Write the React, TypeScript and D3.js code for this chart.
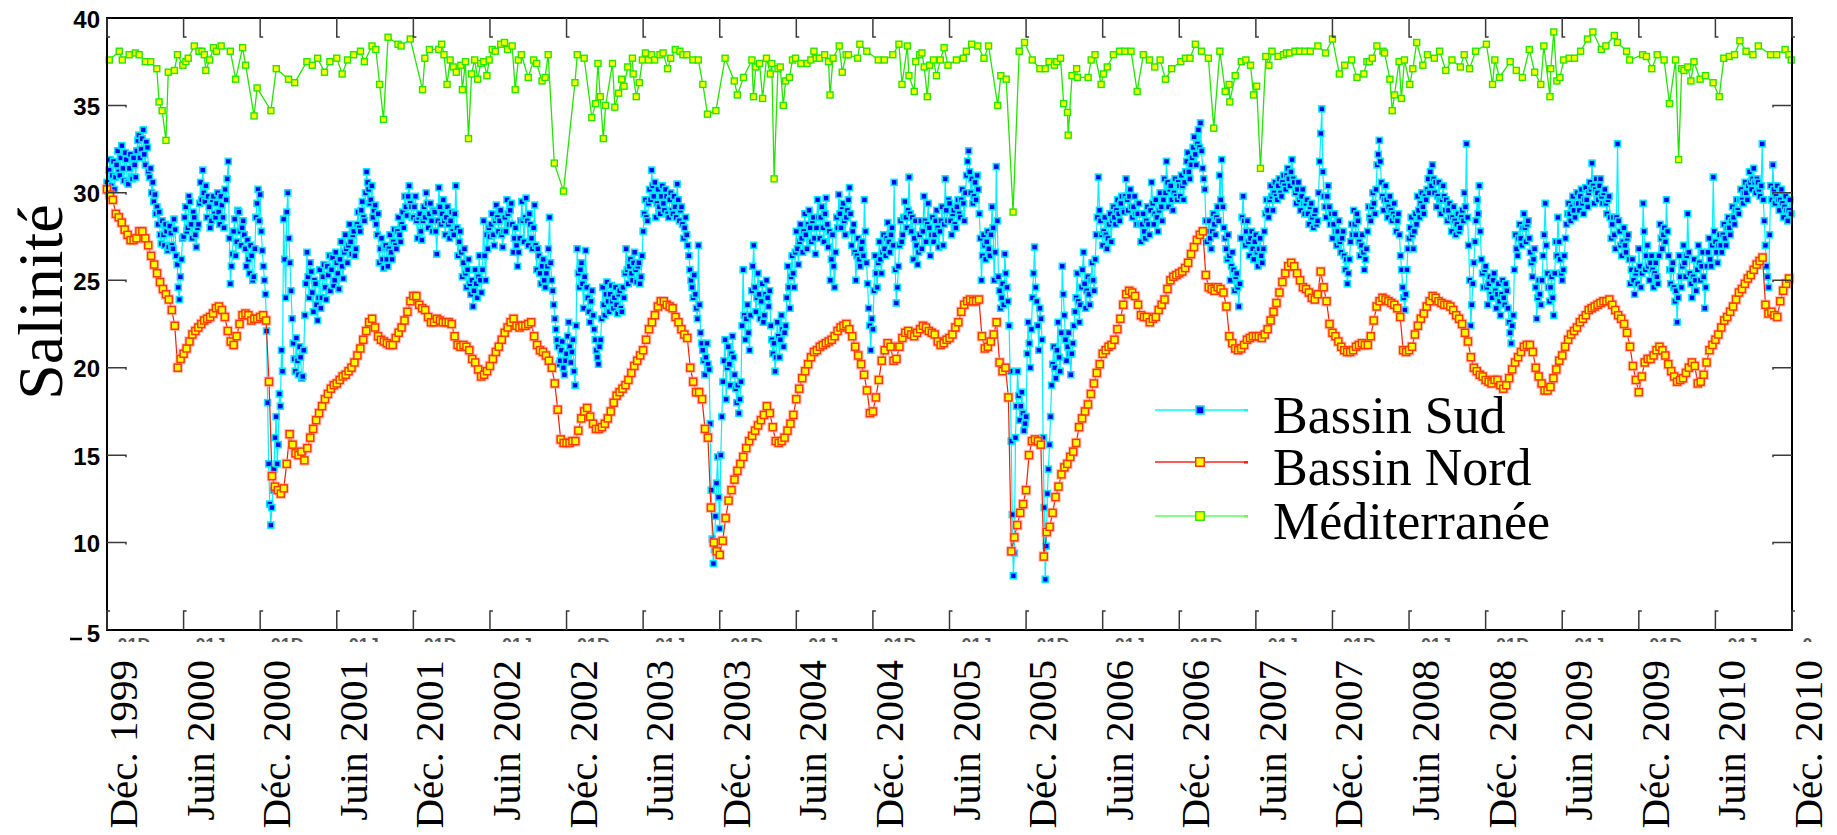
import React from "react";
import * as d3 from "d3";

type Pt = { t: number; v: number };

// Half-year tick labels along the time axis (one per semester boundary)
const semesterLabels = [
  "Déc. 1999", "Juin 2000", "Déc. 2000", "Juin 2001", "Déc. 2001", "Juin 2002",
  "Déc. 2002", "Juin 2003", "Déc. 2003", "Juin 2004", "Déc. 2004", "Juin 2005",
  "Déc. 2005", "Juin 2006", "Déc. 2006", "Juin 2007", "Déc. 2007", "Juin 2008",
  "Déc. 2008", "Juin 2009", "Déc. 2009", "Juin 2010", "Déc. 2010",
];

const salinityTicks = [40, 35, 30, 25, 20, 15, 10, 5];

// Bassin Sud: one row per half-year, evenly spaced samples inside each half-year
const sudSemesters: number[][] = [
  [30.6, 30.1, 31.3, 31.9, 30.4, 31.0, 31.8, 30.2, 30.9, 31.6, 32.4, 31.2, 31.0, 32.0, 32.7, 31.4, 30.7, 32.3, 31.9, 30.6, 30.5, 31.4, 32.2, 30.9, 30.8, 32.0, 31.6, 30.9, 32.4, 33.0, 33.3, 32.0, 32.5, 33.1, 33.6, 32.2, 31.6, 32.9, 32.6, 31.2, 30.9, 31.4, 30.0, 30.6, 29.5, 29.9, 28.8, 29.2, 28.2, 28.9, 27.6, 27.1, 28.4, 27.6, 27.0, 28.2, 27.8, 26.7, 26.9, 28.1, 27.7, 27.0, 26.8, 28.5, 27.9, 26.4, 25.9, 24.6, 23.9, 25.2, 26.2, 27.4],
  [27.5, 28.6, 29.2, 27.8, 28.0, 29.8, 29.5, 28.2, 27.4, 28.9, 28.6, 27.6, 26.9, 28.0, 28.2, 29.4, 30.6, 29.6, 31.3, 30.0, 29.5, 30.4, 28.6, 29.8, 29.2, 28.0, 28.4, 29.6, 29.8, 28.8, 28.6, 29.4, 30.0, 28.9, 28.2, 29.8, 29.3, 28.6, 28.0, 30.2, 29.6, 30.8, 31.8, 27.4, 24.8, 25.8, 26.5, 27.8, 28.5, 26.4, 27.2, 29.0, 28.9, 27.8, 27.0, 28.0, 28.4, 27.6, 26.8, 25.8, 27.3, 26.2, 25.4, 27.0, 26.4, 25.0, 25.2, 26.8, 28.6, 29.4, 30.2, 28.4],
  [29.9, 27.8, 26.7, 25.8, 25.0, 24.2, 22.1, 18.0, 14.5, 12.2, 11.0, 12.0, 13.0, 14.2, 16.0, 17.2, 14.5, 15.6, 18.5, 17.8, 21.0, 19.8, 28.5, 26.2, 24.0, 28.9, 30.0, 27.4, 26.0, 24.4, 22.8, 21.4, 20.5, 19.8, 21.7, 20.4, 19.6, 21.2, 20.6, 19.4, 19.5, 21.0, 23.0, 24.8, 26.6, 25.2, 24.0, 26.0, 25.5, 24.3, 23.2, 25.0, 24.8, 23.6, 22.7, 24.0, 25.6, 23.4, 24.0, 25.2, 25.9, 24.6, 23.9, 25.8, 25.3, 26.4, 24.4, 25.6, 26.3, 24.7, 25.0, 26.6],
  [26.0, 25.4, 24.5, 26.2, 27.2, 25.8, 25.1, 26.6, 27.6, 26.8, 26.0, 27.0, 28.2, 27.2, 26.5, 27.6, 27.8, 26.4, 26.8, 28.2, 28.9, 28.0, 27.8, 29.0, 29.5, 28.6, 28.4, 30.0, 31.2, 30.6, 30.2, 29.4, 29.6, 30.4, 28.6, 29.0, 29.3, 28.2, 27.6, 28.8, 26.0, 26.8, 27.4, 26.2, 25.7, 26.9, 27.0, 26.2, 25.8, 26.8, 27.6, 26.6, 26.2, 27.2, 27.9, 27.0, 26.8, 27.8, 28.6, 27.6, 27.2, 28.2, 28.9, 28.0, 29.8, 29.2, 28.7, 29.8, 30.4, 29.4, 29.2, 28.6],
  [28.6, 29.2, 29.8, 28.4, 27.4, 28.6, 28.8, 27.8, 27.3, 28.4, 29.2, 28.6, 30.0, 29.4, 28.0, 28.8, 29.4, 28.4, 27.8, 29.0, 28.9, 27.8, 26.5, 28.4, 30.3, 29.2, 28.2, 28.8, 29.6, 28.4, 27.6, 28.6, 29.2, 28.2, 27.4, 28.4, 28.9, 27.8, 27.6, 28.8, 30.4, 28.0, 26.4, 27.2, 27.8, 26.6, 25.2, 26.0, 26.8, 25.4, 24.6, 25.6, 26.2, 24.8, 24.2, 25.0, 23.5, 24.4, 25.6, 24.8, 24.0, 25.2, 26.4, 25.0, 24.3, 25.6, 28.4, 26.4, 25.0, 27.6, 26.8, 28.0],
  [27.5, 28.2, 28.8, 27.6, 27.0, 28.4, 29.3, 28.6, 27.8, 28.4, 29.0, 27.6, 26.9, 27.8, 28.6, 27.8, 29.6, 28.8, 28.2, 29.0, 29.4, 28.2, 26.6, 27.4, 28.0, 27.0, 25.8, 26.6, 27.4, 28.4, 29.5, 28.4, 27.2, 28.6, 29.7, 28.4, 27.0, 28.8, 28.2, 27.4, 26.8, 28.0, 29.3, 27.0, 25.6, 26.8, 26.4, 25.4, 24.8, 25.8, 26.2, 25.0, 24.6, 25.4, 25.8, 26.8, 28.6, 26.0, 25.0, 24.4, 23.6, 22.8, 22.2, 21.6, 21.2, 20.2, 20.4, 21.0, 21.5, 20.0, 19.6, 20.4],
  [20.8, 21.8, 22.6, 21.2, 20.3, 20.9, 21.6, 19.8, 19.0, 22.4, 26.8, 25.4, 24.6, 25.6, 26.0, 24.8, 23.4, 25.2, 26.7, 24.6, 24.0, 23.2, 22.6, 23.8, 24.4, 23.0, 22.2, 21.6, 21.0, 20.6, 20.2, 21.2, 21.6, 22.8, 24.6, 23.6, 23.0, 24.2, 24.9, 23.8, 23.2, 24.2, 24.7, 23.8, 23.4, 24.0, 24.6, 23.6, 23.1, 24.2, 24.4, 23.4, 23.2, 24.6, 24.0, 25.4, 26.8, 25.6, 24.8, 25.8, 26.2, 25.4, 25.0, 26.0, 26.6, 25.6, 24.9, 25.8, 26.0, 24.8, 25.2, 26.4],
  [27.8, 28.8, 29.6, 28.6, 28.4, 29.4, 30.2, 29.6, 31.3, 30.4, 29.8, 30.6, 28.6, 29.4, 30.2, 29.2, 28.8, 29.8, 30.4, 29.4, 29.0, 30.2, 29.8, 28.8, 28.6, 29.6, 30.0, 29.0, 28.8, 29.8, 29.2, 28.6, 30.5, 29.6, 28.4, 29.0, 29.2, 28.2, 27.4, 28.0, 28.6, 27.6, 27.0, 26.4, 25.6, 25.0, 24.6, 24.0, 25.3, 24.2, 23.4, 22.8, 27.0, 23.6, 22.0, 21.4, 21.0, 20.4, 19.6, 20.6, 21.4, 20.2, 19.9, 16.8, 13.0, 10.2, 8.8, 9.6, 11.5, 13.4, 14.9, 12.6],
  [10.8, 15.0, 17.2, 19.2, 20.4, 21.6, 18.2, 20.0, 21.2, 20.2, 19.0, 20.8, 21.8, 20.6, 19.6, 18.8, 18.0, 19.0, 17.4, 18.2, 19.2, 22.4, 25.6, 23.0, 21.6, 22.8, 23.6, 22.0, 21.0, 23.0, 24.4, 25.8, 27.0, 24.6, 23.2, 24.0, 25.4, 24.2, 22.8, 23.8, 24.8, 22.6, 23.0, 24.2, 25.0, 24.0, 23.5, 24.4, 22.4, 21.6, 20.8, 21.4, 19.8, 20.6, 22.6, 21.8, 20.6, 21.6, 23.0, 22.2, 21.2, 22.0, 22.4, 24.0, 25.8, 24.6, 23.4, 25.2, 26.4, 25.4, 24.6, 26.6],
  [27.8, 26.8, 25.9, 27.2, 28.2, 27.4, 26.6, 27.8, 28.8, 27.6, 26.8, 28.2, 29.0, 28.0, 27.2, 28.4, 28.6, 27.4, 26.5, 28.0, 29.6, 28.6, 27.4, 28.6, 29.2, 28.0, 27.2, 28.8, 29.7, 28.2, 26.9, 27.8, 25.0, 26.2, 27.6, 25.8, 24.6, 26.6, 28.6, 28.0, 29.9, 28.8, 28.0, 29.2, 29.4, 28.4, 27.6, 28.6, 29.0, 29.6, 30.3, 28.8, 27.0, 27.8, 28.2, 26.6, 25.0, 26.4, 27.4, 26.2, 25.8, 26.8, 27.2, 26.4, 29.6, 27.8, 26.0, 24.8, 23.4, 22.4, 21.0, 22.8],
  [22.2, 24.4, 26.4, 25.4, 24.6, 26.0, 27.2, 26.2, 25.4, 26.6, 27.6, 26.8, 26.4, 27.4, 28.3, 27.2, 26.6, 27.6, 28.0, 27.0, 30.6, 25.6, 23.7, 24.6, 25.8, 27.0, 28.4, 27.2, 27.6, 28.6, 29.5, 28.6, 28.0, 29.0, 30.9, 28.8, 27.8, 28.6, 26.2, 27.4, 28.4, 27.0, 25.9, 26.6, 27.6, 28.4, 26.8, 27.8, 29.8, 28.4, 27.2, 28.2, 29.4, 28.0, 26.4, 27.6, 28.6, 27.2, 27.6, 28.4, 29.0, 28.0, 26.9, 27.8, 28.4, 29.2, 27.0, 28.2, 30.8, 29.0, 28.4, 29.6],
  [29.4, 28.4, 27.6, 28.8, 29.0, 28.2, 28.0, 29.2, 29.6, 28.8, 28.6, 29.6, 30.2, 29.4, 28.4, 30.0, 31.0, 31.8, 32.4, 31.2, 30.0, 30.8, 29.4, 29.8, 30.6, 29.6, 31.0, 30.2, 28.8, 27.4, 25.0, 26.4, 27.6, 27.0, 26.2, 27.2, 27.8, 26.8, 26.4, 27.6, 29.2, 28.0, 25.0, 26.6, 31.5, 28.4, 25.2, 24.4, 23.4, 24.0, 24.8, 23.6, 26.5, 25.4, 24.6, 23.8, 22.4, 19.8, 15.8, 11.6, 8.1, 9.4, 16.0, 17.8, 19.8, 18.4, 17.0, 17.8, 18.6, 17.4, 16.4, 16.8],
  [17.2, 20.8, 22.6, 21.4, 20.0, 22.2, 24.0, 25.4, 26.9, 24.6, 23.8, 22.4, 21.0, 23.4, 22.8, 21.6, 16.0, 12.0, 7.9, 9.8, 12.8, 14.2, 15.6, 17.2, 19.0, 20.2, 21.2, 20.0, 19.4, 21.0, 22.6, 20.6, 19.8, 22.0, 25.8, 24.2, 23.0, 21.6, 20.4, 21.2, 22.0, 20.8, 19.6, 20.8, 21.4, 22.4, 23.2, 24.0, 25.4, 23.8, 22.6, 23.6, 24.6, 25.6, 26.6, 24.8, 23.4, 24.4, 25.2, 24.2, 23.6, 25.0, 26.0, 25.0, 24.4, 26.2, 27.6, 28.6, 30.9, 29.0, 28.4, 27.6],
  [27.0, 27.8, 28.6, 27.6, 26.8, 27.4, 28.2, 28.8, 27.2, 28.4, 29.2, 28.6, 28.2, 29.0, 29.6, 28.8, 28.4, 29.4, 29.8, 29.0, 28.9, 29.8, 30.8, 29.6, 29.0, 29.8, 30.2, 29.2, 28.6, 29.2, 29.8, 28.8, 28.2, 28.8, 29.4, 28.2, 27.2, 28.2, 28.8, 27.8, 27.4, 28.4, 29.2, 28.2, 27.6, 29.0, 30.6, 29.4, 28.2, 28.8, 29.6, 28.6, 27.8, 29.0, 30.0, 29.2, 28.4, 29.6, 30.8, 30.0, 31.8, 30.6, 29.2, 30.2, 30.4, 29.6, 29.0, 30.0, 30.8, 29.8, 29.6, 30.6],
  [30.4, 29.8, 31.0, 30.4, 29.6, 30.6, 31.2, 31.8, 32.3, 31.2, 30.8, 31.6, 32.0, 32.6, 33.2, 32.2, 31.6, 32.8, 33.6, 32.6, 34.0, 32.4, 31.4, 30.8, 30.2, 28.4, 27.2, 27.8, 28.4, 27.4, 26.8, 27.8, 28.8, 28.2, 27.6, 28.6, 29.2, 28.4, 31.0, 29.6, 31.9, 29.2, 28.0, 27.4, 26.8, 26.2, 27.6, 26.4, 25.0, 25.8, 26.6, 25.6, 24.4, 25.2, 25.4, 24.6, 23.5, 24.8, 27.4, 28.6, 29.8, 28.4, 27.0, 27.8, 28.4, 27.2, 26.4, 27.4, 27.8, 26.8, 26.2, 27.2],
  [27.6, 26.6, 25.8, 26.8, 27.4, 26.4, 26.0, 26.8, 27.8, 28.8, 29.6, 29.0, 28.6, 29.6, 30.4, 29.8, 29.0, 30.0, 30.6, 29.8, 29.6, 30.4, 30.8, 30.0, 29.8, 30.6, 31.0, 30.4, 30.2, 31.0, 31.4, 30.8, 30.4, 31.2, 31.9, 30.8, 30.6, 30.0, 29.4, 30.2, 30.6, 29.6, 29.0, 29.8, 30.2, 29.4, 28.8, 29.4, 29.6, 28.8, 28.2, 29.2, 29.4, 28.6, 28.0, 28.8, 29.0, 28.2, 28.4, 30.0, 31.8, 33.4, 34.8, 31.2, 29.8, 29.2, 28.6, 29.8, 30.4, 29.2, 28.2, 28.8],
  [27.4, 28.2, 28.8, 27.8, 27.0, 27.8, 28.4, 27.2, 26.6, 27.4, 27.8, 26.4, 25.6, 26.2, 24.8, 25.4, 26.2, 27.2, 28.2, 27.6, 29.0, 28.2, 27.6, 28.8, 28.4, 27.2, 26.4, 27.0, 27.6, 26.6, 25.6, 26.2, 26.8, 27.8, 29.2, 28.6, 28.4, 29.2, 30.0, 29.4, 28.8, 30.2, 31.6, 32.2, 33.0, 31.8, 30.6, 29.8, 29.0, 29.6, 30.4, 29.6, 28.6, 29.2, 29.8, 29.0, 28.4, 28.8, 29.4, 28.6, 27.8, 28.4, 28.8, 27.6, 26.4, 25.6, 24.6, 24.0, 23.3, 24.2, 25.6, 26.8],
  [27.4, 28.0, 28.6, 27.6, 26.8, 27.8, 28.8, 28.2, 29.8, 29.0, 28.6, 29.4, 30.0, 29.2, 28.8, 29.8, 29.6, 30.2, 30.8, 30.0, 31.2, 30.4, 31.6, 30.8, 30.0, 30.6, 29.2, 29.8, 30.6, 29.6, 28.8, 29.6, 30.4, 29.8, 29.0, 29.6, 28.4, 29.0, 29.4, 28.6, 27.8, 28.6, 29.2, 28.4, 27.6, 28.2, 28.8, 27.8, 28.0, 28.6, 29.0, 28.4, 30.0, 29.2, 32.8, 28.6, 27.0, 25.0, 22.4, 23.6, 24.8, 26.0, 27.2, 28.4, 29.6, 28.8, 30.4, 27.8, 26.2, 25.4, 24.6, 25.6],
  [25.8, 24.6, 23.6, 24.8, 25.2, 24.2, 24.0, 25.0, 25.4, 24.4, 23.4, 24.2, 24.8, 23.8, 23.0, 24.2, 25.0, 24.0, 23.6, 24.8, 24.4, 23.4, 22.6, 22.0, 21.4, 22.4, 23.0, 25.6, 27.6, 26.8, 26.4, 27.4, 28.2, 27.4, 27.0, 28.0, 28.8, 28.0, 27.2, 28.2, 28.4, 27.4, 26.6, 26.0, 25.2, 26.2, 26.8, 24.6, 22.8, 24.0, 25.0, 24.2, 23.6, 25.0, 26.4, 27.6, 29.4, 27.0, 25.4, 24.6, 23.8, 24.6, 25.2, 24.0, 23.0, 25.4, 27.2, 26.4, 28.6, 27.2, 26.2, 25.4],
  [25.0, 25.6, 26.4, 27.4, 28.2, 28.8, 29.4, 28.8, 28.4, 29.2, 29.8, 29.0, 28.6, 29.4, 30.0, 29.4, 29.0, 29.8, 30.2, 29.4, 28.8, 29.6, 30.3, 29.6, 29.2, 30.0, 30.6, 30.2, 31.7, 30.4, 29.4, 30.2, 30.8, 30.0, 29.6, 30.4, 30.8, 29.8, 29.4, 30.0, 30.2, 29.4, 28.8, 29.6, 29.8, 28.6, 27.4, 28.2, 28.6, 27.6, 26.8, 28.6, 32.8, 28.4, 27.8, 27.0, 26.4, 27.2, 28.0, 27.0, 26.6, 27.4, 27.6, 26.2, 24.8, 25.6, 26.2, 25.0, 24.2, 25.4, 25.6, 24.8],
  [26.8, 25.8, 24.6, 25.4, 29.4, 27.8, 25.6, 26.4, 27.0, 25.8, 25.0, 26.0, 26.4, 25.6, 24.6, 25.4, 26.0, 25.2, 24.8, 26.4, 28.2, 27.4, 26.8, 27.6, 28.0, 27.2, 29.6, 27.8, 26.4, 25.6, 24.8, 25.6, 26.0, 24.6, 23.8, 24.4, 22.6, 24.0, 26.4, 25.2, 24.6, 25.8, 27.0, 26.0, 25.2, 26.4, 28.8, 26.6, 25.4, 24.8, 24.0, 25.2, 26.2, 25.0, 24.4, 25.6, 27.0, 26.0, 25.0, 25.8, 26.6, 25.2, 23.4, 24.6, 25.8, 26.6, 27.4, 26.2, 25.8, 27.0, 30.9, 27.8],
  [27.2, 26.6, 26.0, 27.0, 27.6, 27.0, 26.6, 27.6, 28.2, 27.4, 27.0, 28.0, 28.6, 28.0, 27.6, 28.4, 29.2, 28.6, 28.2, 29.0, 29.6, 29.0, 28.8, 29.6, 30.2, 29.6, 29.4, 30.0, 30.6, 30.0, 29.6, 30.4, 31.2, 30.6, 30.2, 30.8, 31.4, 30.6, 30.0, 30.8, 30.6, 30.2, 29.8, 30.4, 32.8, 29.6, 28.4, 27.0, 25.8, 25.2, 24.6, 27.6, 30.4, 29.6, 31.6, 30.2, 29.4, 29.8, 30.4, 29.6, 29.0, 29.6, 30.2, 29.4, 28.6, 29.2, 29.8, 29.0, 28.4, 29.0, 29.6, 28.8],
];

// Bassin Nord: weekly samples, one row per half-year
const nordSemesters: number[][] = [
  [30.2, 29.9, 29.6, 28.8, 28.6, 28.3, 27.9, 27.6, 27.3, 27.3, 27.4, 27.8, 27.8, 27.4, 27.0, 26.4, 25.9, 25.4, 24.9, 24.5, 24.2, 23.9, 23.3, 22.4, 20.0, 20.5],
  [20.8, 21.1, 21.5, 21.9, 22.1, 22.3, 22.5, 22.7, 22.8, 22.9, 23.1, 23.4, 23.5, 23.3, 22.9, 22.1, 21.5, 21.3, 21.8, 22.5, 23.0, 23.1, 23.0, 22.7, 22.8, 22.8],
  [22.9, 23.0, 22.7, 19.2, 13.8, 13.2, 13.0, 12.8, 13.1, 14.5, 16.2, 15.6, 15.1, 15.0, 15.2, 14.7, 15.4, 16.0, 16.5, 17.0, 17.4, 17.8, 18.2, 18.5, 18.8, 19.0],
  [19.1, 19.3, 19.5, 19.6, 19.8, 20.0, 20.3, 20.7, 21.1, 21.6, 22.1, 22.6, 22.8, 22.3, 21.8, 21.6, 21.5, 21.4, 21.3, 21.3, 21.7, 22.0, 22.3, 22.7, 23.2, 23.8],
  [24.1, 24.1, 23.6, 23.4, 23.3, 22.9, 22.6, 22.6, 22.8, 22.7, 22.6, 22.6, 22.6, 22.5, 21.8, 21.3, 21.2, 21.3, 21.2, 21.0, 20.5, 20.3, 19.9, 19.5, 19.6, 19.8],
  [20.1, 20.5, 20.9, 21.2, 21.6, 22.0, 22.3, 22.6, 22.8, 22.4, 22.3, 22.4, 22.4, 22.5, 22.6, 21.8, 21.3, 21.0, 20.9, 20.7, 20.4, 20.0, 19.1, 17.6, 15.9, 15.7],
  [15.7, 15.7, 15.8, 15.8, 16.4, 17.1, 17.5, 17.7, 17.2, 16.8, 16.5, 16.5, 16.6, 16.8, 17.1, 17.5, 18.0, 18.4, 18.6, 18.8, 19.0, 19.3, 19.7, 20.1, 20.4, 20.7],
  [21.0, 21.6, 22.2, 22.6, 23.0, 23.5, 23.8, 23.8, 23.6, 23.5, 23.4, 22.9, 22.6, 22.2, 21.9, 21.7, 20.0, 19.2, 18.6, 18.6, 18.2, 16.5, 16.0, 12.0, 10.0, 9.5],
  [9.3, 10.1, 11.4, 12.4, 13.0, 13.6, 14.1, 14.5, 14.9, 15.4, 15.8, 16.1, 16.4, 16.7, 17.0, 17.3, 17.8, 17.4, 16.6, 15.8, 15.7, 15.8, 16.0, 16.4, 16.8, 17.3],
  [18.2, 18.8, 19.4, 19.8, 20.2, 20.6, 20.9, 21.0, 21.2, 21.3, 21.4, 21.5, 21.6, 21.8, 22.1, 22.3, 22.4, 22.5, 22.2, 21.8, 21.2, 20.7, 20.2, 19.6, 18.7, 17.4],
  [17.5, 18.3, 19.3, 20.4, 21.0, 21.4, 21.2, 20.4, 20.5, 21.2, 21.7, 22.0, 22.1, 21.9, 21.8, 22.0, 22.2, 22.4, 22.3, 22.1, 22.0, 21.9, 21.5, 21.3, 21.4, 21.6],
  [21.7, 21.9, 22.3, 22.6, 23.2, 23.6, 23.8, 23.9, 23.8, 23.8, 23.9, 21.8, 21.1, 21.2, 21.5, 21.9, 22.6, 20.3, 19.8, 20.0, 18.3, 9.5, 10.3, 11.0, 11.7, 12.2],
  [13.0, 15.0, 15.8, 15.9, 15.8, 15.6, 9.2, 10.6, 10.9, 11.7, 12.6, 13.2, 13.9, 14.3, 14.5, 14.9, 15.2, 15.7, 16.6, 17.1, 17.5, 17.9, 18.5, 19.1, 19.7, 20.2],
  [20.8, 21.0, 21.2, 21.3, 21.6, 22.2, 22.8, 23.6, 24.2, 24.4, 24.3, 24.1, 23.6, 23.0, 22.9, 22.9, 22.6, 22.8, 22.9, 23.3, 23.6, 23.9, 24.5, 25.0, 25.2, 25.3],
  [25.4, 25.5, 25.7, 26.0, 26.5, 26.9, 27.3, 27.6, 27.8, 25.3, 24.6, 24.5, 24.4, 24.6, 24.5, 24.3, 23.5, 21.8, 21.4, 21.1, 21.0, 21.1, 21.3, 21.6, 21.7, 21.8],
  [21.8, 21.8, 21.7, 21.9, 22.2, 22.7, 23.2, 23.7, 24.3, 24.9, 25.4, 25.8, 26.0, 25.8, 25.4, 25.0, 24.6, 24.5, 24.3, 24.0, 23.9, 24.2, 25.5, 24.6, 23.8, 22.5],
  [22.0, 21.8, 21.5, 21.2, 21.0, 20.9, 20.9, 21.0, 21.2, 21.3, 21.4, 21.3, 21.3, 21.8, 22.7, 23.5, 23.8, 24.0, 23.9, 23.8, 23.7, 23.6, 23.4, 22.9, 21.0, 20.9],
  [21.0, 21.2, 21.9, 22.4, 22.8, 23.1, 23.5, 23.8, 24.1, 24.0, 23.8, 23.7, 23.6, 23.6, 23.5, 23.3, 23.0, 22.8, 22.5, 22.0, 21.5, 20.6, 20.0, 19.8, 19.6, 19.5],
  [19.3, 19.2, 19.1, 19.3, 19.3, 19.0, 18.8, 19.0, 19.4, 19.9, 20.3, 20.6, 20.9, 21.2, 21.3, 21.3, 20.9, 20.0, 19.5, 19.1, 18.7, 18.7, 18.9, 19.4, 19.9, 20.4],
  [20.7, 21.2, 21.6, 21.9, 22.1, 22.3, 22.6, 22.8, 23.0, 23.3, 23.4, 23.5, 23.6, 23.7, 23.8, 23.8, 23.9, 23.6, 23.3, 23.0, 22.8, 22.5, 22.0, 21.2, 20.1, 19.3],
  [18.6, 19.5, 20.3, 20.5, 20.5, 20.7, 21.0, 21.2, 21.0, 20.7, 20.2, 19.8, 19.5, 19.2, 19.3, 19.4, 19.7, 20.0, 20.3, 20.1, 19.1, 19.2, 19.6, 20.3, 21.0, 21.3],
  [21.6, 21.9, 22.3, 22.7, 22.9, 23.2, 23.5, 23.9, 24.3, 24.5, 24.8, 25.1, 25.3, 25.6, 25.9, 26.1, 26.3, 23.6, 23.1, 23.2, 23.0, 22.9, 23.8, 24.4, 24.8, 25.1],
];

// Méditerranée: [time in half-years since Déc. 1999, salinity]
const medPoints: [number, number][] = [
  [0.03, 37.6], [0.16, 38.1], [0.20, 37.6], [0.29, 37.9], [0.37, 38.0], [0.42, 37.9], [0.50, 37.5], [0.57, 37.5], [0.65, 37.1], [0.68, 35.2], [0.72, 34.7], [0.77, 33.0], [0.80, 36.9], [0.88, 37.0], [0.92, 37.9], [0.99, 37.3],
  [1.03, 37.5], [1.06, 37.7], [1.14, 38.4], [1.20, 38.1], [1.24, 38.1], [1.27, 37.9], [1.29, 37.0], [1.34, 37.6], [1.39, 38.3], [1.43, 38.1], [1.49, 38.4], [1.61, 38.1], [1.68, 36.5], [1.77, 38.3], [1.81, 37.3], [1.92, 34.4], [1.96, 36.0],
  [2.14, 34.7], [2.21, 37.1], [2.37, 36.5], [2.45, 36.3], [2.61, 37.5], [2.68, 37.3], [2.75, 37.7], [2.84, 36.9], [2.91, 37.5], [3.00, 37.7],
  [3.07, 36.8], [3.14, 37.6], [3.22, 37.9], [3.31, 38.1], [3.36, 37.5], [3.46, 38.4], [3.51, 38.2], [3.56, 36.2], [3.61, 34.2], [3.67, 38.9], [3.80, 38.5], [3.84, 38.4], [3.96, 38.8],
  [4.12, 35.9], [4.15, 37.7], [4.21, 38.2], [4.33, 38.2], [4.37, 38.5], [4.40, 37.9], [4.44, 36.2], [4.48, 37.6], [4.52, 37.2], [4.56, 36.9], [4.62, 37.3], [4.64, 35.9], [4.68, 37.5], [4.72, 33.1], [4.76, 36.8], [4.80, 37.6], [4.84, 36.5], [4.88, 37.4], [4.92, 37.5], [4.96, 36.7], [4.99, 37.6],
  [5.03, 38.2], [5.07, 38.1], [5.14, 38.5], [5.19, 38.6], [5.23, 38.2], [5.29, 38.4], [5.33, 35.9], [5.37, 37.6], [5.41, 37.9], [5.50, 36.6], [5.57, 37.6], [5.61, 37.4], [5.68, 36.4], [5.72, 36.6], [5.76, 37.9], [5.84, 31.7], [5.96, 30.1],
  [6.11, 36.3], [6.14, 37.9], [6.23, 37.7], [6.33, 34.3], [6.38, 35.1], [6.41, 37.4], [6.44, 35.5], [6.48, 33.1], [6.51, 35.0], [6.60, 37.4], [6.63, 34.9], [6.68, 35.7], [6.72, 36.5], [6.75, 36.1], [6.80, 37.2], [6.86, 37.7], [6.87, 36.8], [6.91, 35.5], [6.95, 36.3], [6.99, 37.6],
  [7.03, 38.0], [7.07, 37.6], [7.11, 37.9], [7.15, 37.6], [7.22, 37.9], [7.26, 38.0], [7.32, 37.1], [7.36, 37.7], [7.42, 38.2], [7.48, 38.1], [7.52, 37.9], [7.57, 37.9], [7.65, 37.6], [7.72, 37.6], [7.78, 36.2], [7.84, 34.5], [7.95, 34.7],
  [8.07, 37.7], [8.19, 36.4], [8.23, 35.6], [8.31, 36.6], [8.42, 37.6], [8.44, 35.5], [8.47, 37.2], [8.52, 37.4], [8.56, 35.4], [8.61, 37.7], [8.66, 36.8], [8.68, 37.4], [8.71, 30.8], [8.76, 37.1], [8.79, 37.2], [8.83, 35.0], [8.86, 36.4], [8.91, 36.6], [8.95, 37.6], [8.99, 37.7],
  [9.06, 37.4], [9.14, 37.4], [9.19, 37.6], [9.23, 38.1], [9.26, 37.7], [9.30, 37.7], [9.37, 37.9], [9.42, 37.5], [9.44, 35.6], [9.48, 37.7], [9.56, 38.4], [9.60, 36.9], [9.65, 37.9], [9.68, 37.9], [9.80, 37.7], [9.83, 38.5], [9.92, 38.1],
  [10.07, 37.6], [10.15, 37.6], [10.26, 37.9], [10.34, 38.5], [10.38, 36.2], [10.45, 38.4], [10.47, 36.7], [10.54, 35.8], [10.56, 37.5], [10.61, 37.9], [10.64, 38.0], [10.67, 37.2], [10.71, 35.5], [10.74, 37.3], [10.79, 37.6], [10.83, 36.7], [10.88, 37.6], [10.93, 38.3], [10.98, 37.3],
  [11.09, 37.6], [11.18, 37.7], [11.22, 38.1], [11.29, 38.5], [11.37, 38.4], [11.45, 37.7], [11.51, 38.4], [11.63, 35.0], [11.67, 36.7], [11.74, 36.5], [11.83, 28.9], [11.91, 38.1], [11.98, 38.6],
  [12.08, 37.6], [12.18, 37.1], [12.25, 37.1], [12.30, 37.5], [12.37, 37.3], [12.40, 37.5], [12.45, 37.7], [12.49, 35.1], [12.54, 34.6], [12.55, 33.3], [12.60, 36.7], [12.66, 37.1], [12.67, 36.6], [12.81, 36.6], [12.85, 37.6], [12.90, 37.9], [12.98, 36.2],
  [13.01, 36.8], [13.06, 37.2], [13.14, 37.9], [13.22, 38.1], [13.29, 38.1], [13.37, 38.1], [13.45, 35.8], [13.53, 37.9], [13.61, 37.6], [13.68, 37.2], [13.75, 37.6], [13.82, 36.5], [13.90, 37.1],
  [14.02, 37.5], [14.08, 37.7], [14.14, 37.7], [14.21, 38.5], [14.29, 38.1], [14.38, 37.7], [14.45, 33.7], [14.53, 38.1], [14.60, 35.8], [14.65, 36.2], [14.66, 35.2], [14.73, 36.7], [14.81, 37.5], [14.87, 37.6], [14.93, 37.3], [14.97, 35.6],
  [15.01, 36.1], [15.06, 31.4], [15.13, 37.8], [15.17, 37.3], [15.21, 38.1], [15.29, 37.8], [15.36, 37.9], [15.40, 38.0], [15.44, 38.0], [15.51, 38.1], [15.57, 38.1], [15.64, 38.1], [15.71, 38.1], [15.81, 38.4], [15.91, 38.0], [16.00, 38.8],
  [16.09, 36.8], [16.16, 37.3], [16.25, 37.6], [16.32, 36.6], [16.41, 36.8], [16.45, 37.5], [16.48, 37.5], [16.52, 37.7], [16.58, 38.4], [16.66, 38.1], [16.68, 38.0], [16.75, 36.5], [16.78, 34.7], [16.81, 35.6], [16.87, 37.5], [16.90, 35.4], [16.94, 37.6],
  [17.01, 36.2], [17.05, 37.1], [17.10, 38.6], [17.18, 37.3], [17.24, 37.9], [17.33, 37.7], [17.40, 38.1], [17.48, 37.0], [17.56, 37.6], [17.67, 37.2], [17.72, 37.9], [17.79, 37.1], [17.87, 38.1],
  [18.01, 38.5], [18.09, 36.2], [18.12, 37.6], [18.18, 36.6], [18.32, 37.5], [18.40, 37.0], [18.48, 36.6], [18.57, 38.2], [18.64, 36.9], [18.72, 36.2], [18.76, 38.4], [18.84, 35.5], [18.85, 37.1], [18.89, 39.2], [18.93, 36.4], [18.97, 36.6],
  [19.02, 37.6], [19.09, 37.7], [19.16, 37.7], [19.24, 38.1], [19.33, 38.8], [19.40, 39.2], [19.51, 38.2], [19.57, 38.4], [19.68, 39.0], [19.72, 38.6], [19.84, 38.1], [19.88, 37.6],
  [20.05, 37.9], [20.10, 37.8], [20.17, 37.1], [20.24, 37.9], [20.33, 37.6], [20.40, 35.1], [20.48, 37.6], [20.52, 31.9], [20.56, 37.1], [20.59, 37.0], [20.64, 37.2], [20.68, 36.4], [20.72, 37.5], [20.80, 36.5], [20.87, 36.7], [20.97, 36.3],
  [21.05, 35.5], [21.11, 37.7], [21.18, 37.8], [21.25, 37.9], [21.32, 38.7], [21.40, 38.1], [21.49, 37.9], [21.56, 38.4], [21.72, 37.9], [21.80, 37.9], [21.91, 38.2], [21.96, 37.9], [21.99, 37.6],
];

const legendEntries = ["Bassin Sud", "Bassin Nord", "Méditerranée"];

const SERIF = "'Liberation Serif', 'Times New Roman', Times, serif";
const SANS = "'Liberation Sans', Arial, Helvetica, sans-serif";

const rowsToPoints = (rows: number[][]): Pt[] =>
  rows.flatMap((row, k) => row.map((v, i) => ({ t: k + i / row.length, v })));

type MarkerStyle = { fill: string; stroke: string; strokeWidth: number; size: number; halo?: string };

function Markers({ pts, x, y, st }: { pts: Pt[]; x: (t: number) => number; y: (v: number) => number; st: MarkerStyle }) {
  const s = st.size;
  return (
    <g>
      {st.halo && (
        <g fill="none" stroke={st.halo} strokeWidth={3.6} strokeOpacity={0.6}>
          {pts.map((d, i) => (
            <rect key={i} x={x(d.t) - s / 2} y={y(d.v) - s / 2} width={s} height={s} />
          ))}
        </g>
      )}
      <g fill={st.fill} stroke={st.stroke} strokeWidth={st.strokeWidth}>
        {pts.map((d, i) => (
          <rect key={i} x={x(d.t) - s / 2} y={y(d.v) - s / 2} width={s} height={s} />
        ))}
      </g>
    </g>
  );
}

export default function App() {
  const width = 1837;
  const height = 835;
  const left = 107, right = 1792, top = 18, bottom = 630;

  const x = d3.scaleLinear().domain([0, semesterLabels.length - 1]).range([left, right]);
  const y = d3.scaleLinear().domain([5, 40]).range([bottom, top]);
  const line = d3.line<Pt>().x((d) => x(d.t)).y((d) => y(d.v));

  const sud = rowsToPoints(sudSemesters);
  const nord = rowsToPoints(nordSemesters);
  const med: Pt[] = medPoints.map(([t, v]) => ({ t, v }));

  const sudStyle: MarkerStyle = { fill: "#0000f0", stroke: "#00e8ff", strokeWidth: 1.6, size: 6 };
  const nordStyle: MarkerStyle = { fill: "#ffff00", stroke: "#ff3a00", strokeWidth: 1.5, size: 7, halo: "#ff9c9c" };
  const medStyle: MarkerStyle = { fill: "#ffff00", stroke: "#22e600", strokeWidth: 1.4, size: 6 };

  const legendRows = [
    { label: legendEntries[0], ly: 410, lineColor: "#00ffff", st: { ...sudStyle, size: 8 } },
    { label: legendEntries[1], ly: 462, lineColor: "#ff2020", st: { ...nordStyle, size: 8.5, halo: undefined } },
    { label: legendEntries[2], ly: 516, lineColor: "#5cff5c", st: { ...medStyle, size: 8.5 } },
  ];

  const tickColor = "#3a3a3a";
  const tickLen = 19;

  return (
    <svg
      width={width}
      height={height}
      viewBox={`0 0 ${width} ${height}`}
      style={{ position: "absolute", left: 0, top: 0, display: "block", background: "#ffffff" }}
    >
      <defs>
        <clipPath id="hidden-date-row">
          <rect x={left} y={636} width={right - left + 20} height={6} />
        </clipPath>
      </defs>
      <rect x={0} y={0} width={width} height={height} fill="#ffffff" />

      {/* series: Méditerranée, Bassin Sud, Bassin Nord */}
      <path d={line(med) ?? ""} fill="none" stroke="#22e600" strokeWidth={1.3} />
      <Markers pts={med} x={x} y={y} st={medStyle} />

      <path d={line(sud) ?? ""} fill="none" stroke="#00f0ff" strokeWidth={1.2} />
      <Markers pts={sud} x={x} y={y} st={sudStyle} />

      <path d={line(nord) ?? ""} fill="none" stroke="#ff1a00" strokeWidth={1.2} />
      <Markers pts={nord} x={x} y={y} st={nordStyle} />

      {/* axis frame */}
      <rect x={left} y={top} width={right - left} height={bottom - top} fill="none" stroke="#000" strokeWidth={2} />

      {/* salinity ticks, left and right */}
      {salinityTicks.filter((v) => v > 5 && v < 40).map((v) => (
        <g key={`yt${v}`} stroke={tickColor} strokeWidth={1.5} fill="none">
          <path d={`M${left},${y(v)}H${left + tickLen}v2`} />
          <path d={`M${right},${y(v)}H${right - tickLen}v2`} />
        </g>
      ))}

      {/* semester ticks, top and bottom */}
      {semesterLabels.map((_, k) => (
        <g key={`xt${k}`} stroke={tickColor} strokeWidth={1.5} fill="none">
          <path d={`M${x(k)},${top}V${top + tickLen}h3`} />
          <path d={`M${x(k)},${bottom}V${bottom - tickLen}h3`} />
        </g>
      ))}

      {/* tops of the numeric date row, mostly hidden under the axis */}
      <g clipPath="url(#hidden-date-row)">
        {semesterLabels.map((lab, k) => (
          <text
            key={`dr${k}`}
            x={x(k) + 27}
            y={651}
            textAnchor="middle"
            fontFamily={SANS}
            fontWeight="bold"
            fontSize={18}
            fill="#555"
          >
            {lab.startsWith("D") ? "01D" : "01J"}
          </text>
        ))}
      </g>

      {/* salinity labels */}
      {salinityTicks.map((v) => (
        <text
          key={`yl${v}`}
          x={100}
          y={y(v) + (v === 5 ? 3 : 1)}
          textAnchor="end"
          dominantBaseline="central"
          fontFamily={SANS}
          fontWeight="bold"
          fontSize={24}
          fill="#000"
        >
          {v}
        </text>
      ))}
      <line x1={70} x2={82} y1={639} y2={639} stroke="#000" strokeWidth={2.5} />

      {/* semester labels */}
      {semesterLabels.map((lab, k) => (
        <text
          key={`xl${k}`}
          transform={`translate(${x(k) + 16},660) rotate(-90)`}
          textAnchor="end"
          dominantBaseline="central"
          fontFamily={SERIF}
          fontSize={41}
          fill="#000"
        >
          {lab}
        </text>
      ))}

      {/* axis title */}
      <text
        transform="translate(62,302) rotate(-90)"
        textAnchor="middle"
        fontFamily={SERIF}
        fontSize={64}
        fill="#000"
      >
        Salinité
      </text>

      {/* legend */}
      {legendRows.map((r) => (
        <g key={r.label}>
          <line x1={1155} x2={1246} y1={r.ly} y2={r.ly} stroke={r.lineColor} strokeWidth={1.5} />
          <rect x={1244} y={r.ly - 1} width={4} height={2.6} fill={r.lineColor} />
          <rect
            x={1200 - r.st.size / 2}
            y={r.ly - r.st.size / 2}
            width={r.st.size}
            height={r.st.size}
            fill={r.st.fill}
            stroke={r.st.stroke}
            strokeWidth={r.st.strokeWidth}
          />
          <text x={1273} y={r.ly + 23} fontFamily={SERIF} fontSize={52} fill="#000">
            {r.label}
          </text>
        </g>
      ))}
    </svg>
  );
}
